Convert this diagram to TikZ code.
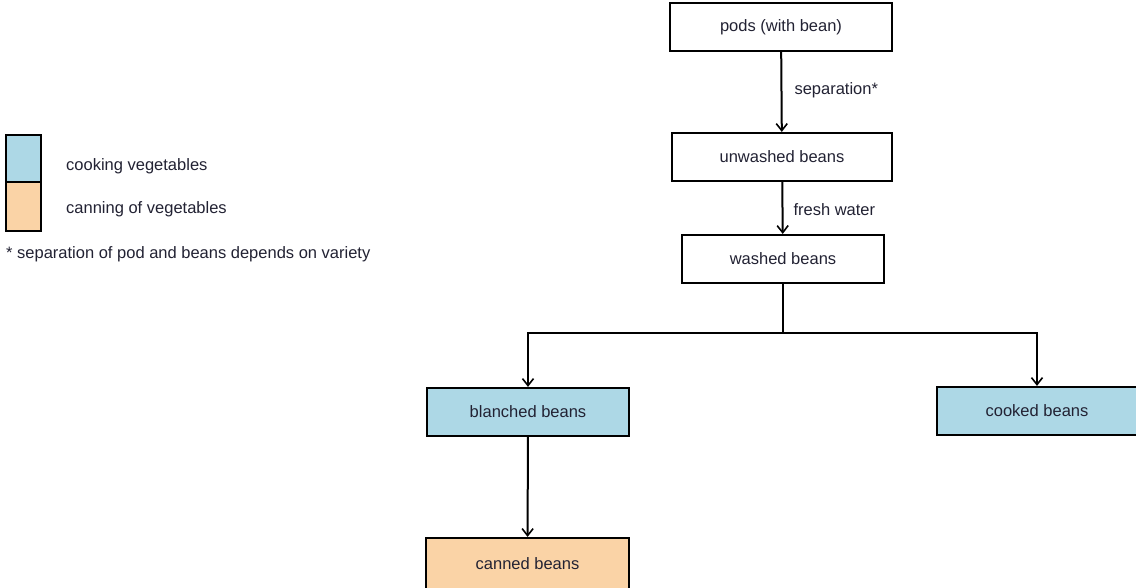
\documentclass[tikz,border=0pt]{standalone}
\usepackage{fontspec}
\setmainfont{Liberation Sans}
\usetikzlibrary{arrows.meta}
\definecolor{cookblue}{HTML}{ADD8E6}
\definecolor{canorange}{HTML}{FAD3A6}
\definecolor{txt}{HTML}{222233}
\begin{document}
\begin{tikzpicture}[x=1pt,y=-1pt,
  box/.style={draw=black,line width=2.2pt,minimum height=48pt,inner sep=0pt,font=\fontsize{16.5}{18}\selectfont,text=txt},
  lbl/.style={font=\fontsize{16.5}{18}\selectfont,text=txt,inner sep=0pt},
  arr/.style={line width=2pt,-{Straight Barb[length=7pt,width=11pt,line width=1.6pt]}},
  ln/.style={line width=2pt}]
\useasboundingbox (0,0) rectangle (1136,588);
\fill[white] (0,0) rectangle (1136,588);
% legend
\node[draw=black,line width=2.2pt,fill=cookblue,minimum width=35pt,minimum height=47pt,inner sep=0pt] (lgb) at (23.5,158.5) {};
\node[draw=black,line width=2.2pt,fill=canorange,minimum width=35pt,minimum height=49pt,inner sep=0pt] (lgo) at (23.5,206.5) {};
\node[lbl,anchor=west] (lgbt) at (66,166) {cooking vegetables};
\node[lbl,anchor=west] (lgot) at (66,209) {canning of vegetables};
\node[lbl,anchor=west] (note) at (6,254) {* separation of pod and beans depends on variety};
% boxes
\node[box,minimum width=222pt] (pods) at (781,27) {pods (with bean)};
\node[box,minimum width=220pt] (unw) at (782,157) {unwashed beans};
\node[box,minimum width=202pt] (wash) at (783,259) {washed beans};
\node[box,fill=cookblue,minimum width=202pt] (blan) at (528,412) {blanched beans};
\node[box,fill=cookblue,minimum width=200pt] (cook) at (1037,411) {cooked beans};
\node[box,fill=canorange,minimum width=203pt,minimum height=52pt] (can) at (527.5,564) {canned beans};
% connectors
\draw[arr] (pods) -- node[lbl,anchor=west,xshift=12pt,yshift=2pt] (sep) {separation*} (unw);
\draw[arr] (unw) -- node[lbl,anchor=west,xshift=10pt,yshift=-2pt] (fw) {fresh water} (wash);
\coordinate (split) at (783,333);
\draw[ln] (wash.south) -- (split);
\draw[arr] (split) -| (blan.north);
\draw[arr] (split) -| (cook.north);
\draw[arr] (blan) -- (can);
\end{tikzpicture}
\end{document}
